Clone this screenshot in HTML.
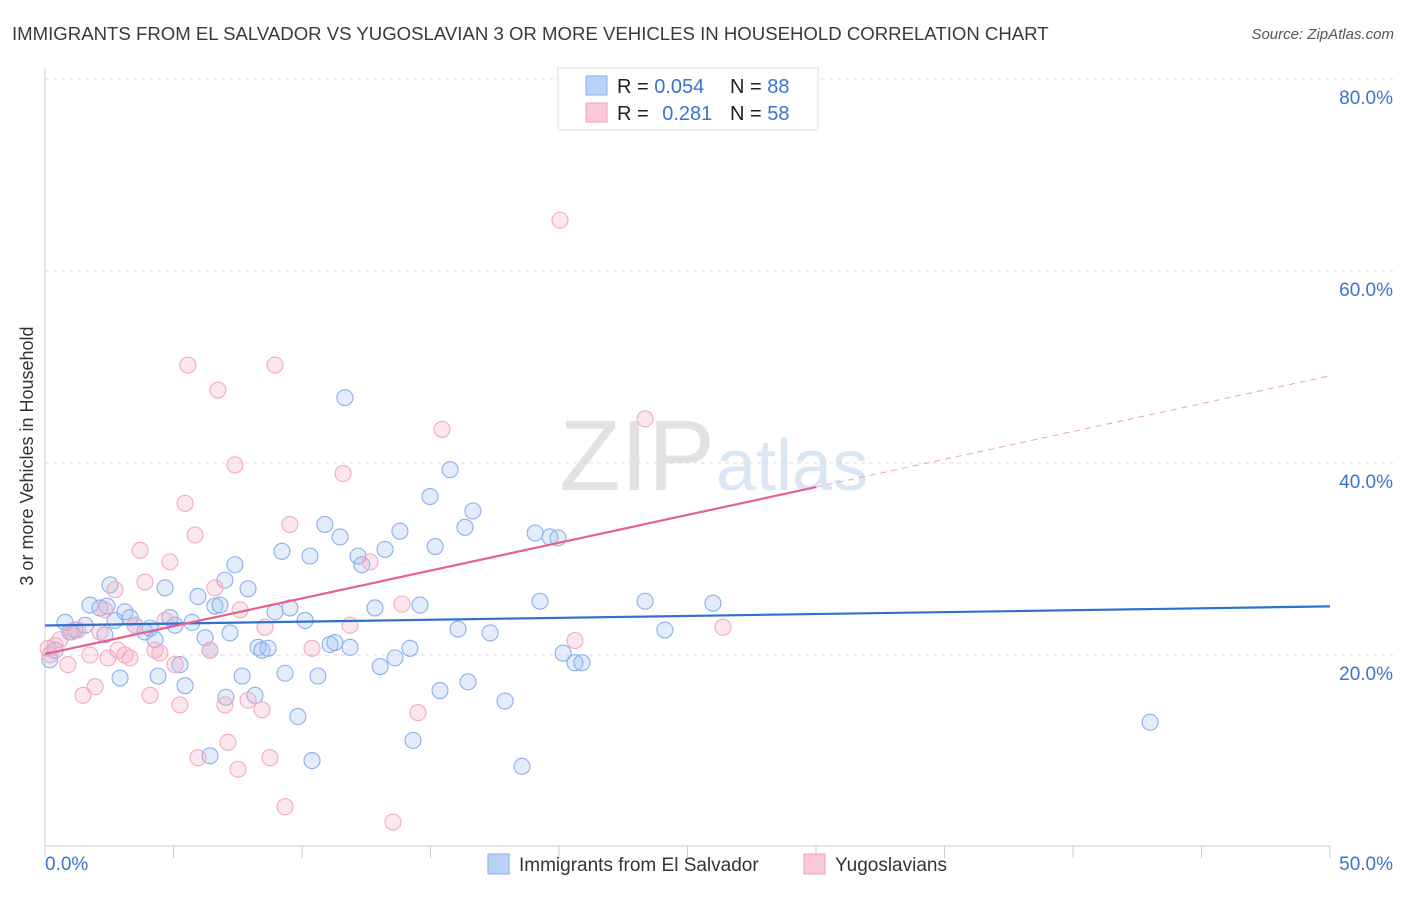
<!DOCTYPE html>
<html><head><meta charset="utf-8"><style>
body{margin:0;background:#fff;font-family:"Liberation Sans",sans-serif;}
svg text{font-family:"Liberation Sans",sans-serif;}
</style></head><body>
<svg id="chart" width="1406" height="892" viewBox="0 0 1406 892">
<text x="12" y="40" font-size="18.6" fill="#3a3a3a">IMMIGRANTS FROM EL SALVADOR VS YUGOSLAVIAN 3 OR MORE VEHICLES IN HOUSEHOLD CORRELATION CHART</text>
<text x="1394" y="39" font-size="15" fill="#555" font-style="italic" text-anchor="end">Source: ZipAtlas.com</text>
<text x="33" y="456" font-size="18" fill="#333" text-anchor="middle" transform="rotate(-90 33 456)">3 or more Vehicles in Household</text>
<text x="715" y="490" font-size="100" fill="#e2e2e2" text-anchor="end" font-family="Liberation Serif">ZIP</text>
<text x="716" y="490" font-size="72" fill="#d8e6f6">atlas</text>
<g id="grid"></g><g id="ticks"></g><g id="pts"></g><g id="trend"></g>
<g>
<rect x="558" y="68" width="260" height="62" fill="#fff" stroke="#ddd"/>
<rect x="586" y="76" width="21" height="19" fill="#b9d2f5" stroke="#86aee8"/>
<rect x="586" y="103" width="21" height="19" fill="#f9c9d8" stroke="#ef9fba"/>
<text x="617" y="93" font-size="20" fill="#222">R = <tspan fill="#3a74cf">0.054</tspan></text>
<text x="730" y="93" font-size="20" fill="#222">N = <tspan fill="#3a74cf">88</tspan></text>
<text x="617" y="120" font-size="20" fill="#222">R = <tspan fill="#3a74cf" dx="8">0.281</tspan></text>
<text x="730" y="120" font-size="20" fill="#222">N = <tspan fill="#3a74cf">58</tspan></text>
</g>
<g>
<rect x="488" y="854" width="21" height="20" fill="#b9d2f5" stroke="#86aee8"/>
<text x="519" y="871" font-size="19" fill="#333">Immigrants from El Salvador</text>
<rect x="804" y="854" width="21" height="20" fill="#f9c9d8" stroke="#ef9fba"/>
<text x="835" y="871" font-size="19" fill="#333">Yugoslavians</text>
</g>
</svg>
<script>
const yTicks=[20,40,60,80];
const xTickLabels=["0.0%","50.0%"];
const blueX=[0.19,0.39,0.78,0.97,1.17,1.56,1.75,2.14,2.33,2.53,2.72,2.92,3.11,3.31,3.5,3.89,4.09,4.28,4.4,4.67,4.86,5.06,5.25,5.45,5.72,5.95,6.23,6.42,6.61,6.81,7,7.2,7.39,7.67,7.9,8.17,8.29,8.44,8.68,8.95,9.22,9.34,9.53,9.84,10.12,10.31,10.39,10.62,10.89,11.09,11.28,11.48,11.67,11.87,12.18,12.33,12.84,13.04,13.23,13.62,13.81,14.2,14.59,14.98,15.18,15.37,15.76,16.07,16.34,16.46,16.65,17.32,17.9,18.56,19.07,19.26,19.65,19.96,20.16,20.62,20.89,23.35,24.12,25.99,43.0,2.41,7.04,14.32,6.42];
const blueY=[19.5,20.5,23.4,22.4,22.6,23.1,25.2,24.9,22.1,27.3,23.6,17.6,24.5,23.9,23.1,22.4,22.8,21.6,17.8,27,23.9,23.1,19,16.8,23.4,26.1,21.8,20.5,25.1,25.2,27.8,22.3,29.4,17.8,26.9,15.8,20.8,20.5,20.7,24.5,30.8,18.1,24.9,13.6,23.6,30.3,9,17.8,33.6,21.1,21.3,32.3,46.8,20.8,30.3,29.4,24.9,18.8,31,19.7,32.9,20.7,25.2,36.5,31.3,16.3,39.3,22.7,33.3,17.2,35,22.3,15.2,8.4,32.7,25.6,32.3,32.2,20.2,19.2,19.2,25.6,22.6,25.4,13,25.1,15.6,11.1,9.5];
const pinkX=[0.19,0.39,0.58,0.89,1.05,1.28,1.48,1.95,2.14,2.33,2.72,2.84,3.11,3.31,3.5,3.7,3.89,4.09,4.28,4.47,4.67,4.86,5.06,5.25,5.45,5.56,5.84,5.95,6.42,6.61,6.73,7,7.12,7.39,7.51,7.59,7.9,8.44,8.56,8.75,8.95,9.34,9.53,10.39,11.6,11.87,12.65,13.54,13.89,14.51,15.45,20.04,20.62,23.35,26.38,0.12,2.45,1.75];
const pinkY=[20,21,21.6,19,22.4,22.6,15.8,16.7,22.4,24.7,26.8,20.5,20,19.7,23.1,30.9,27.6,15.8,20.5,20.2,23.6,29.7,19,14.8,35.8,50.2,32.5,9.3,20.5,27,47.6,14.8,10.9,39.8,8.1,24.7,15.3,14.3,22.9,9.3,50.2,4.2,33.6,20.7,38.9,23.1,29.7,2.6,25.3,14,43.5,65.3,21.5,44.6,22.9,20.7,19.7,20];
const NS="http://www.w3.org/2000/svg";
const sx=v=>45+v/50*1285, sy=v=>847-v/20*192;
function mk(tag,attrs,parent){const e=document.createElementNS(NS,tag);for(const k in attrs)e.setAttribute(k,attrs[k]);document.getElementById(parent).appendChild(e);return e;}
let ax=mk('line',{x1:45,y1:68,x2:45,y2:846,stroke:'#ccc'},'ticks');


let bx=mk('line',{x1:45,y1:846,x2:1330,y2:846,stroke:'#ccc'},'ticks');


yTicks.forEach(t=>{
 const g=mk('line',{x1:45,x2:1394,y1:sy(t),y2:sy(t),stroke:'#ddd','stroke-dasharray':'4,4'},'grid');
 
 
 const l=mk('text',{x:1393,y:sy(t)+25,'font-size':19,fill:'#3a74cf','text-anchor':'end'},'ticks');
 l.textContent=t.toFixed(1)+'%';
 
 
});
for(let i=0;i<=10;i++){
 const t=mk('line',{x1:sx(i*5),x2:sx(i*5),y1:846,y2:858,stroke:'#ccc'},'ticks');
 
 
}
xTickLabels.forEach((s,i)=>{
 const l=mk('text',{x:i?1393:45,y:870,'font-size':19,fill:'#3a74cf','text-anchor':i?'end':'start'},'ticks');
 l.textContent=s;
 
 
});
function pts(X,Y,fill,stroke,name){X.forEach((x,i)=>{
 const c=mk('circle',{cx:sx(x),cy:sy(Y[i]),r:8,fill:fill,stroke:stroke,'stroke-width':1.1},'pts');
 
 
});}
pts(blueX,blueY,'rgba(160,192,240,0.3)','#8ab0ea','point-el-salvador');
pts(pinkX,pinkY,'rgba(245,170,195,0.28)','#f2aac2','point-yugoslavian');
function reg(X,Y){const n=X.length;let mx=0,my=0;X.forEach((x,i)=>{mx+=x;my+=Y[i]});mx/=n;my/=n;let a=0,b=0;X.forEach((x,i)=>{a+=(x-mx)*(Y[i]-my);b+=(x-mx)*(x-mx)});const s=a/b;return [my-s*mx,s];}
const [bi,bs]=reg(blueX,blueY);
let bl=mk('line',{x1:sx(0),y1:sy(bi),x2:sx(50),y2:sy(bi+bs*50),stroke:'#2f6fd0','stroke-width':2.2},'trend');


const [pi,ps]=reg(pinkX,pinkY);
let pl=mk('line',{x1:sx(0),y1:sy(pi),x2:sx(30),y2:sy(pi+ps*30),stroke:'#e8608e','stroke-width':2.2},'trend');


let pd=mk('line',{x1:sx(30),y1:sy(pi+ps*30),x2:sx(50),y2:sy(pi+ps*50),stroke:'#eca0b8','stroke-width':1,'stroke-dasharray':'6,5'},'trend');


</script>
</body></html>
